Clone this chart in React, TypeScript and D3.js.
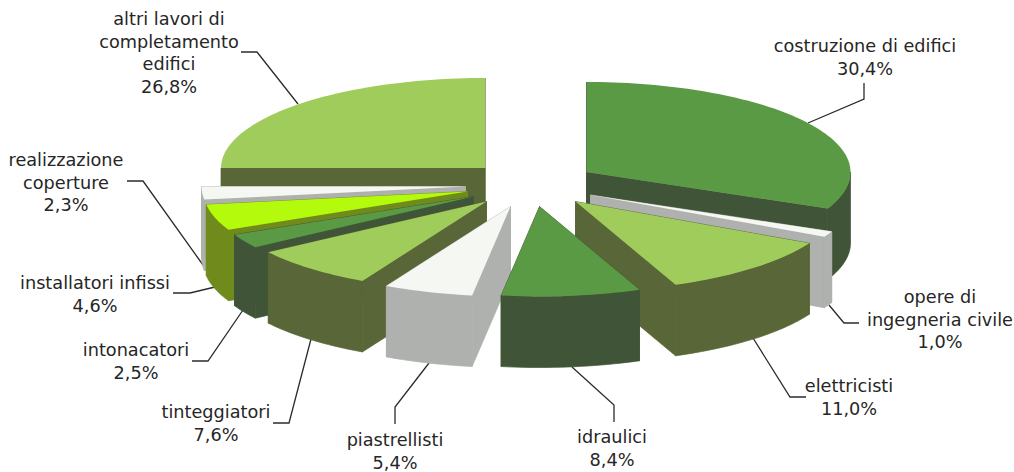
import React from "react";
import * as d3 from "d3";

const categories = ["costruzione di edifici","opere di ingegneria civile","elettricisti","idraulici","piastrellisti","tinteggiatori","intonacatori","installatori infissi","realizzazione coperture","altri lavori di completamento edifici"];
const shares = [30.4, 1.0, 11.0, 8.4, 5.4, 7.6, 2.5, 4.6, 2.3, 26.8];
const shareLabels = ["30,4%","1,0%","11,0%","8,4%","5,4%","7,6%","2,5%","4,6%","2,3%","26,8%"];
const labelLines = [
  ["costruzione di edifici"],
  ["opere di","ingegneria civile"],
  ["elettricisti"],
  ["idraulici"],
  ["piastrellisti"],
  ["tinteggiatori"],
  ["intonacatori"],
  ["installatori infissi"],
  ["realizzazione","coperture"],
  ["altri lavori di","completamento","edifici"],
];

// layout (exploded position of each wedge's apex, label anchors, leaders)
const apexes: [number, number][] = [[586.5,172],[590.5,195],[575.5,201.5],[539.5,206.5],[510.5,206.5],[486.5,201.5],[473.5,196.5],[467.5,191.5],[465.5,186.5],[485,168]];
const labelAnchors: [number, number][] = [[865,52],[940,303],[849,392],[612,443],[395,446],[216,418],[136,356],[95,289],[66,166],[169,25]];
const leaders: [number, number][][] = [
  [[864,83],[864,99],[808,123]],
  [[859,323],[844,323],[829,305]],
  [[806,397],[790,397],[753,338]],
  [[614,422],[614,405],[572,367]],
  [[395,424],[395,407],[429,363]],
  [[273,423],[289,423],[311,339]],
  [[192,361],[208,361],[243,310]],
  [[173,293],[190,293],[215,287]],
  [[127,181],[143,181],[203,265]],
  [[241,52],[257,52],[298,104]],
];
const topColors = ["#5a9a44","#f5f8f2","#a0cc5c","#5a9a44","#f5f8f2","#a0cc5c","#5a9a44","#b4fa0a","#f5f8f2","#a0cc5c"];
const sideColors = ["#415437","#aeb1ad","#586638","#415437","#aeb1ad","#586638","#415437","#6f8b1c","#aeb1ad","#586638"];
const paintOrder = [9,0,1,8,7,6,5,4,2,3];

const RX = 264, RY = 90, DEPTH = 71;

// the tilted view bends the angles a little
const viewAngle = d3.scaleLinear().domain([0,109.44,263.52,360]).range([0,114,270,360]);
const deg = (rad: number) => (rad * 180) / Math.PI;

const pie = d3.pie<number>().sort(null).value((d) => d);
const line = d3.line<[number, number]>().curve(d3.curveLinear);

function arcPts(ax: number, ay: number, a0: number, a1: number): [number, number][] {
  const n = Math.max(4, Math.ceil((a1 - a0) / 1.5));
  return d3.range(n + 1).map((i) => {
    const t = ((a0 + ((a1 - a0) * i) / n) * Math.PI) / 180;
    return [ax + RX * Math.sin(t), ay - RY * Math.cos(t)] as [number, number];
  });
}

export default function App() {
  const arcs = pie(shares);
  const sdown = (p: [number, number]): [number, number] => [p[0], p[1] + DEPTH];
  return (
    <svg width={1014} height={472} style={{ position: "absolute", left: 0, top: 0, background: "#fff" }}>
      <defs>
        <filter id="soft" x="-5%" y="-5%" width="110%" height="110%"><feGaussianBlur stdDeviation="0.45" /></filter>
      </defs>
      <g fill="none" stroke="#2b2b2b" strokeWidth={1.3}>
        {leaders.map((l, i) => <path key={i} d={line(l) as string} />)}
      </g>
      <g filter="url(#soft)">
      {paintOrder.map((i) => {
        const a = arcs[i];
        const [ax, ay] = apexes[i];
        const s = viewAngle(deg(a.startAngle));
        const e = viewAngle(deg(a.endAngle));
        const rim = arcPts(ax, ay, s, e);
        const apex: [number, number] = [ax, ay];
        const front = Math.max(s, 90) < Math.min(e, 270) ? arcPts(ax, ay, Math.max(s, 90), Math.min(e, 270)) : [];
        const band = [...front, ...front.slice().reverse().map(sdown)];
        const first = rim[0], last = rim[rim.length - 1];
        const wall1 = [apex, first, sdown(first), sdown(apex)];
        const wall2 = [apex, last, sdown(last), sdown(apex)];
        const top = [apex, ...rim];
        const side = { fill: sideColors[i], stroke: sideColors[i], strokeWidth: 0.7, strokeLinejoin: "round" as const };
        return (
          <g key={categories[i]}>
            <path d={line(wall1) + "Z"} {...side} />
            <path d={line(wall2) + "Z"} {...side} />
            {band.length > 0 && <path d={line(band) + "Z"} {...side} />}
            <path d={line(top) + "Z"} fill={topColors[i]} />
          </g>
        );
      })}
      </g>
      <g fontFamily="'DejaVu Sans', Verdana, sans-serif" fontSize={17.7} fill="#262626" textAnchor="middle">
        {categories.map((c, i) => {
          const lines = [...labelLines[i], shareLabels[i]];
          return (
            <text key={c} x={labelAnchors[i][0]} y={labelAnchors[i][1]}>
              {lines.map((t, j) => (
                <tspan key={j} x={labelAnchors[i][0]} dy={j === 0 ? 0 : 22.6}>{t}</tspan>
              ))}
            </text>
          );
        })}
      </g>
    </svg>
  );
}
